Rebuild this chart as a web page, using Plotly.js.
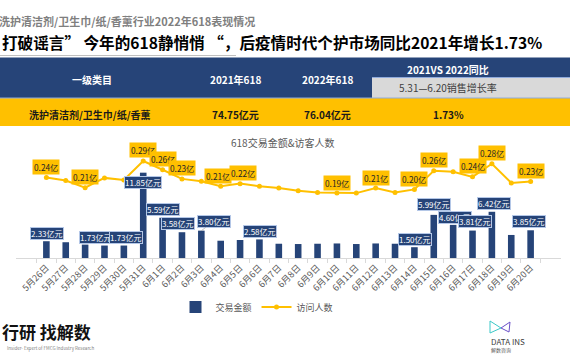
<!DOCTYPE html>
<html><head><meta charset="utf-8">
<script src="https://cdn.plot.ly/plotly-3.0.1.min.js"></script>
<style>html,body{margin:0;padding:0;background:#fff;overflow:hidden}#chart{width:570px;height:360px}</style>
</head><body><div id="chart"></div>
<script>
// ---- data ----
const days = ['5月26日','5月27日','5月28日','5月29日','5月30日','5月31日','6月1日','6月2日','6月3日','6月4日','6月5日','6月6日','6月7日','6月8日','6月9日','6月10日','6月11日','6月12日','6月13日','6月14日','6月15日','6月16日','6月17日','6月18日','6月19日','6月20日'];
const sales = [2.33,2.19,1.86,1.73,1.73,11.85,5.59,3.58,3.80,2.40,2.50,2.58,1.98,1.94,1.98,2.02,1.94,2.02,1.98,1.50,5.99,4.60,3.81,6.42,3.20,3.85];
const visitors = [0.238,0.229,0.208,0.237,0.231,0.287,0.261,0.234,0.227,0.212,0.220,0.212,0.207,0.199,0.194,0.192,0.192,0.207,0.194,0.203,0.258,0.255,0.240,0.279,0.222,0.226];
const salesLabelIdx = [0,3,4,5,6,7,8,11,19,20,21,22,23,25];
const visitorLabelIdx = [0,2,5,6,7,9,10,15,17,19,20,22,23,25];
const seriesNames = ['交易金额','访问人数'];
const headerCells = ['一级类目','2021年618','2022年618','2021VS 2022同比'];
const subHeader = '5.31—6.20销售增长率';
const rowCells = ['洗护清洁剂/卫生巾/纸/香薰','74.75亿元','76.04亿元','1.73%'];
const subtitleText = '洗护清洁剂/卫生巾/纸/香薰行业2022年618表现情况';
const titleText = '打破谣言” 今年的618静悄悄 “，后疫情时代个护市场同比2021年增长1.73%';
const chartTitle = '618交易金额&访客人数';

// ---- layout helpers (pixel -> paper) ----
const L = 16, R = 9, T = 150, B = 102, W = 570 - L - R, H = 360 - T - B;
const px = x => (x - L) / W;
const py = y => (360 - B - y) / H;
const NAVY = '#264478', GOLD = '#FFC000';
const FONT = '"Noto Sans CJK SC", "Noto Sans", sans-serif';

const shapes = [
  {type:'line', xref:'paper', yref:'paper', x0:px(0), x1:px(236), y0:py(55.5), y1:py(55.5), line:{color:'#bfbfbf', width:1}},
  {type:'rect', xref:'paper', yref:'paper', x0:px(-1), x1:px(571), y0:py(57.5), y1:py(98), fillcolor:NAVY, line:{width:0}, layer:'below'},
  {type:'rect', xref:'paper', yref:'paper', x0:px(372), x1:px(571), y0:py(78), y1:py(98), fillcolor:'#D9D9D9', line:{width:0}, layer:'below'},
  {type:'line', xref:'paper', yref:'paper', x0:px(372), x1:px(571), y0:py(77.5), y1:py(77.5), line:{color:'#8FAADC', width:1}},
  {type:'rect', xref:'paper', yref:'paper', x0:px(-1), x1:px(571), y0:py(98), y1:py(126), fillcolor:GOLD, line:{width:0}, layer:'below'},
  {type:'line', xref:'paper', yref:'paper', x0:px(-1), x1:px(571), y0:py(98), y1:py(98), line:{color:'#8FAADC', width:1}},
  {type:'path', xref:'paper', yref:'paper', path:`M${px(490)},${py(321)} L${px(501)},${py(328)} L${px(490)},${py(333)} Z`, line:{color:'#3CC8C8', width:1}},
  {type:'path', xref:'paper', yref:'paper', path:`M${px(510)},${py(322)} L${px(501)},${py(328)} L${px(509)},${py(332)} Z`, line:{color:'#6A4FC8', width:1}}
];

const ann = [];
ann.push({xref:'paper', yref:'paper', x:px(-3), y:py(21), xanchor:'left', yanchor:'middle', showarrow:false,
  text:'<b>'+subtitleText+'</b>', font:{size:11, color:'#7f7f7f', family:FONT}});
ann.push({xref:'paper', yref:'paper', x:px(0), y:py(42), xanchor:'left', yanchor:'middle', showarrow:false,
  text:'<b>'+titleText+'</b>', font:{size:15.6, color:'#000', family:FONT}});
const headX = [92, 235, 327, 448];
const headY = [79, 79, 79, 69];
headerCells.forEach((t,i)=>ann.push({xref:'paper', yref:'paper', x:px(headX[i]), y:py(headY[i]), xanchor:'center', yanchor:'middle', showarrow:false,
  text:'<b>'+t+'</b>', font:{size:10, color:'#fff', family:FONT}}));
ann.push({xref:'paper', yref:'paper', x:px(448), y:py(88), xanchor:'center', yanchor:'middle', showarrow:false,
  text:subHeader, font:{size:10, color:'#404040', family:FONT}});
const rowX = [90, 235, 327, 448];
rowCells.forEach((t,i)=>ann.push({xref:'paper', yref:'paper', x:px(rowX[i]), y:py(114), xanchor:'center', yanchor:'middle', showarrow:false,
  text:'<b>'+t+'</b>', font:{size:10, color:'#1a1a1a', family:FONT}}));
ann.push({xref:'paper', yref:'paper', x:px(282), y:py(142), xanchor:'center', yanchor:'middle', showarrow:false,
  text:chartTitle, font:{size:10, color:'#595959', family:FONT}});

// visitor labels (offsets are placement only)
const visShift = {9:-2.5, 10:2.5};
visitorLabelIdx.forEach(i=>ann.push({xref:'x', yref:'y2', x:days[i], y:visitors[i], xanchor:'center', yanchor:'middle', yshift:10.5, xshift:visShift[i]||0, showarrow:false,
  text:visitors[i].toFixed(2)+'亿', bgcolor:GOLD, borderpad:1, font:{size:8.3, color:'#262626', family:FONT}}));

// sales labels (offsets are placement only)
const salesShift = {0:[0.5,8],3:[-8.5,8],4:[2,8],5:[0,-9.5],6:[0,8.5],7:[-4,9],11:[1,8],19:[1,8],20:[0,10],21:[1.5,7.5],22:[2.5,8.7],23:[2.5,8.7],25:[-1.5,8.3]};
salesLabelIdx.forEach(i=>{
  const base = {xref:'x', yref:'y', x:days[i], y:sales[i], text:sales[i].toFixed(2)+'亿元', bgcolor:NAVY, bordercolor:'#B4C7E7', borderwidth:1, borderpad:0,
    font:{size:8, color:'#fff', family:FONT}};
  if (i === 8) {
    Object.assign(base, {showarrow:true, arrowhead:0, arrowwidth:0.7, arrowcolor:'#a6a6a6', ax:13, ay:-9.5, standoff:0});
  } else {
    const s = salesShift[i] || [0,8.5];
    Object.assign(base, {showarrow:false, xanchor:'center', yanchor:'middle', xshift:s[0], yshift:s[1]});
  }
  ann.push(base);
});

// footer
ann.push({xref:'paper', yref:'paper', x:px(0), y:py(331), xanchor:'left', yanchor:'middle', showarrow:false,
  text:'<b>行研 找解数</b>', font:{size:17, color:'#111', family:FONT}});
ann.push({xref:'paper', yref:'paper', x:px(96), y:py(348), xanchor:'right', yanchor:'middle', showarrow:false,
  text:'Insider- Expert of FMCG Industry Research', font:{size:4.5, color:'#7f7f7f', family:FONT}});
ann.push({xref:'paper', yref:'paper', x:px(489), y:py(341), xanchor:'left', yanchor:'middle', showarrow:false,
  text:'DATA INS', font:{size:8, color:'#404040', family:FONT}});
ann.push({xref:'paper', yref:'paper', x:px(489), y:py(350), xanchor:'left', yanchor:'middle', showarrow:false,
  text:'解数咨询', font:{size:5, color:'#595959', family:FONT}});

const traces = [
  {type:'bar', name:seriesNames[0], x:days, y:sales, width:0.34, marker:{color:NAVY}, yaxis:'y'},
  {type:'scatter', mode:'lines+markers', name:seriesNames[1], x:days, y:visitors, yaxis:'y2',
   line:{color:GOLD, width:2}, marker:{color:GOLD, size:5}}
];

const layout = {
  width:570, height:360, paper_bgcolor:'#fff', plot_bgcolor:'rgba(0,0,0,0)',
  margin:{l:L, r:R, t:T, b:B, autoexpand:false},
  font:{family:FONT, color:'#595959'},
  showlegend:true,
  legend:{orientation:'h', x:px(257), xanchor:'center', y:py(307), yanchor:'middle', font:{size:9, color:'#595959', family:FONT}, itemwidth:30, bgcolor:'rgba(0,0,0,0)'},
  xaxis:{type:'category', tickangle:-45, tickfont:{size:9, color:'#595959', family:FONT}, showline:true, linecolor:'#d9d9d9', linewidth:1,
    ticks:'outside', tickson:'boundaries', ticklen:4, tickcolor:'#d9d9d9', showgrid:false, zeroline:false, fixedrange:true},
  yaxis:{range:[0,15], visible:false, showgrid:false, zeroline:false},
  yaxis2:{range:[0,0.3195], overlaying:'y', side:'right', visible:false, showgrid:false, zeroline:false},
  bargap:0.66,
  shapes:shapes, annotations:ann, hovermode:false
};
Plotly.newPlot('chart', traces, layout, {staticPlot:true, displayModeBar:false});
</script></body></html>
